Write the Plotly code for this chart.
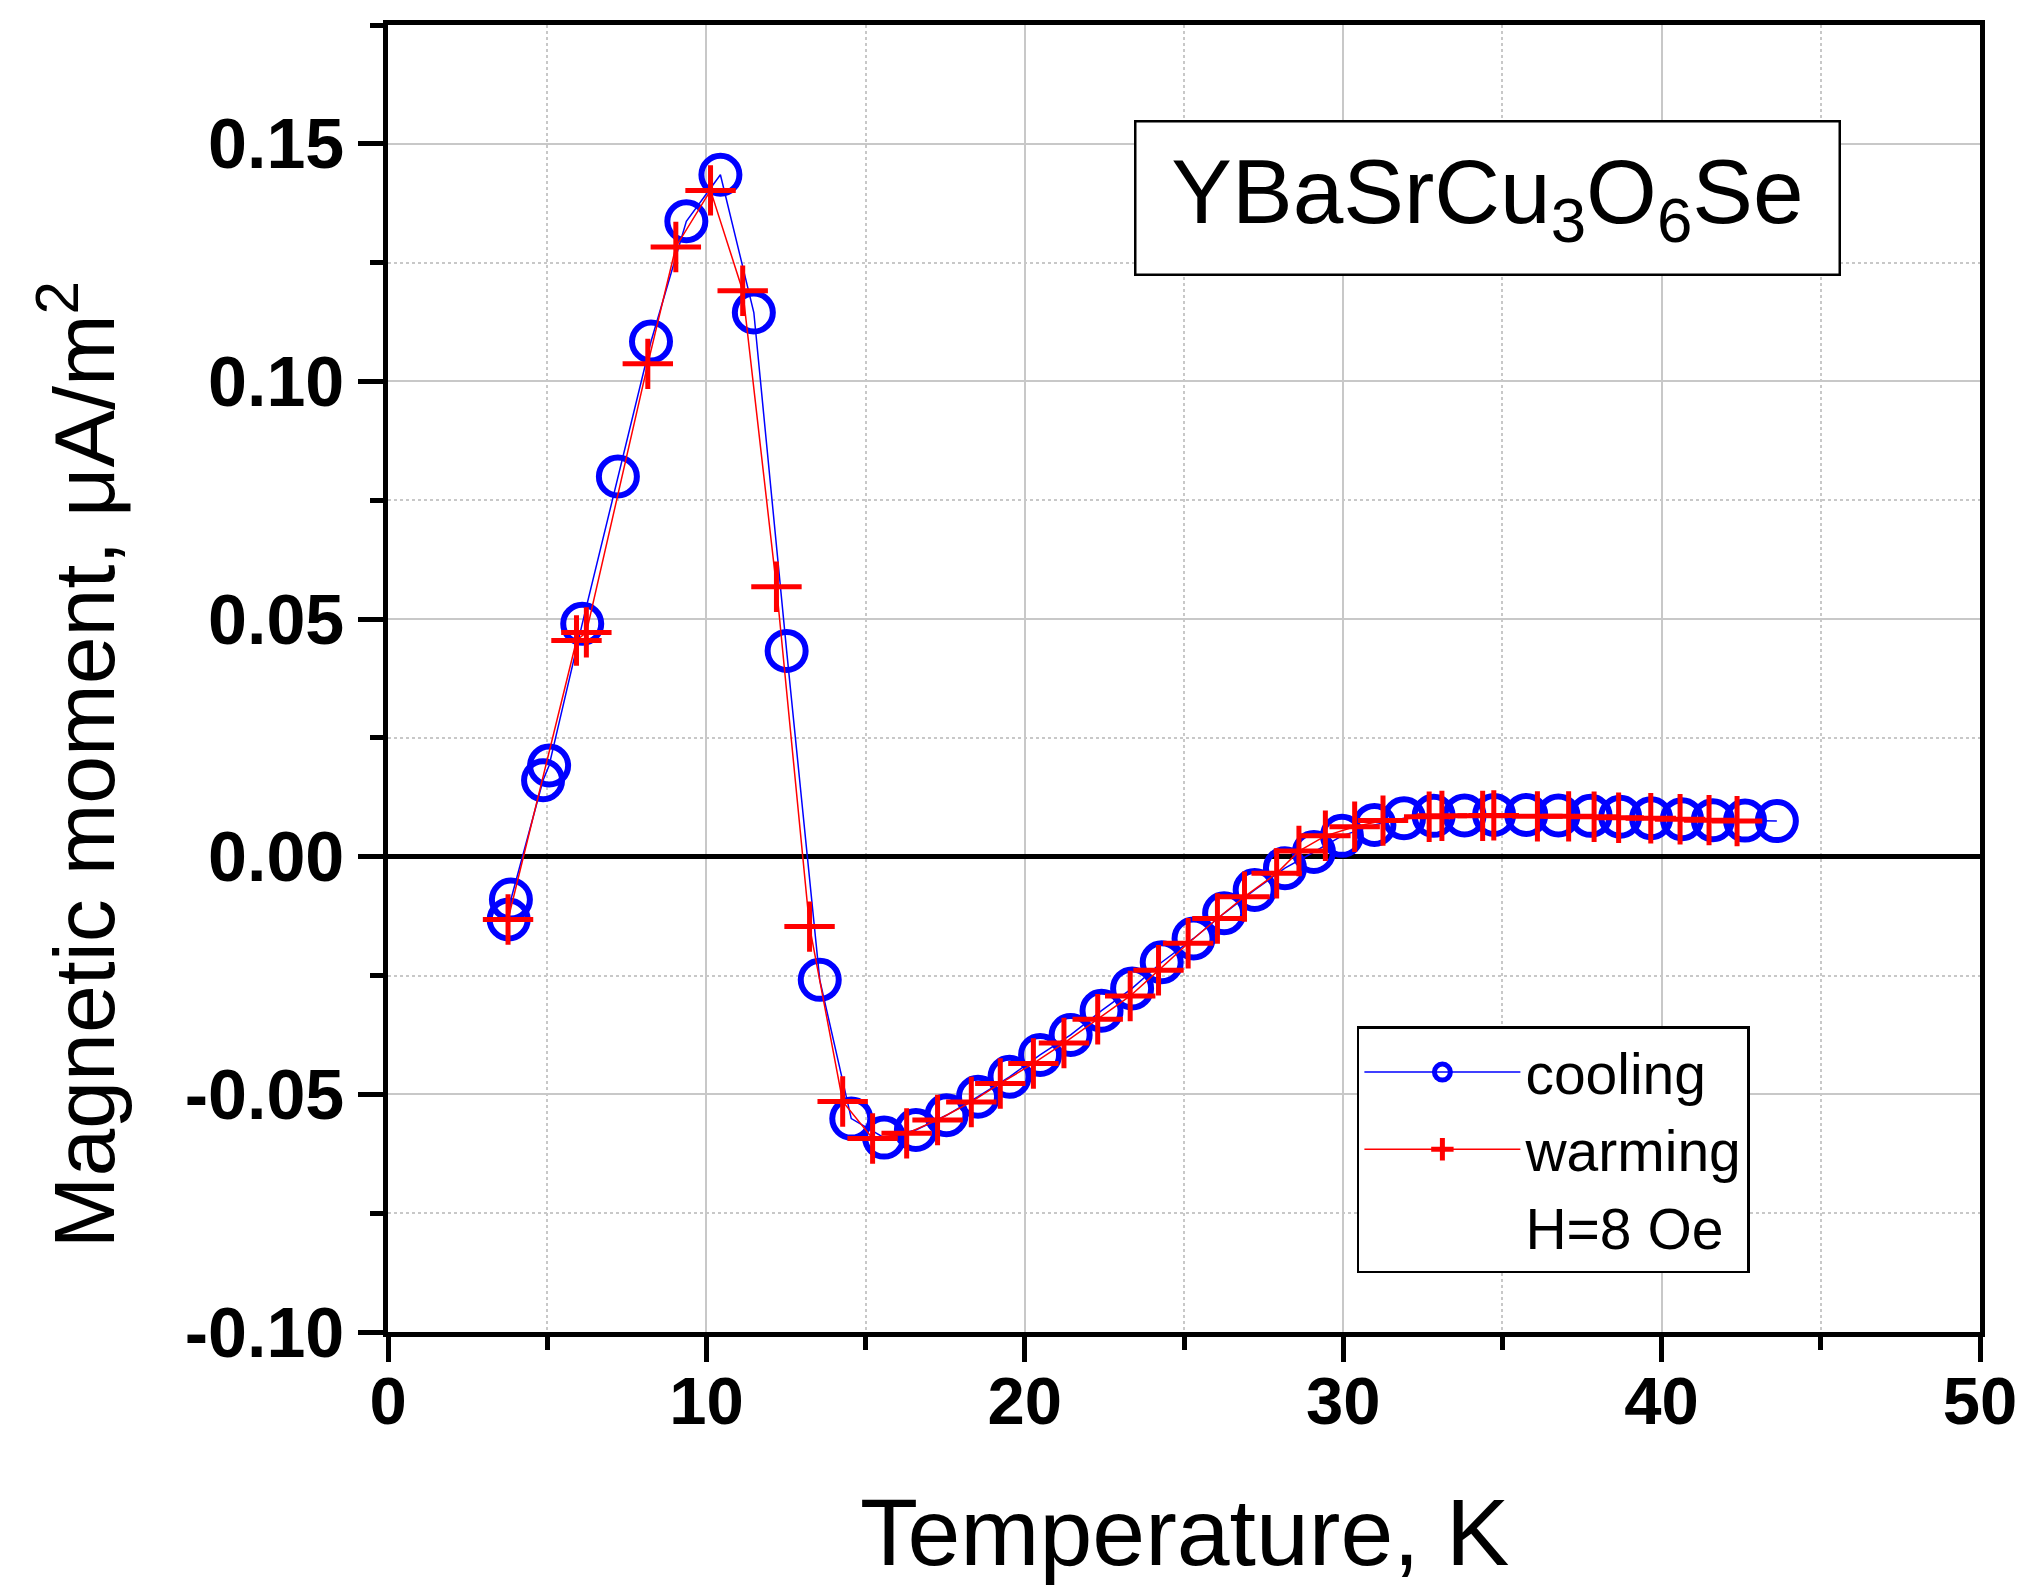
import plotly.graph_objects as go

# ---- data ----
cool_T = [3.79, 3.86, 4.87, 5.06, 6.10, 7.22, 8.26, 9.37, 10.44, 11.49, 12.52, 13.56,
          14.55, 15.58, 16.58, 17.54, 18.53, 19.52, 20.48, 21.44, 22.41, 23.37, 24.30,
          25.30, 26.26, 27.22, 28.17, 29.08, 29.96, 30.98, 31.91, 32.84, 33.81, 34.74,
          35.75, 36.76, 37.77, 38.70, 39.67, 40.64, 41.61, 42.62, 43.62]
cool_M = [-0.0132, -0.0090, 0.0161, 0.0192, 0.0490, 0.0800, 0.1084, 0.1337, 0.1435, 0.1145,
          0.0433, -0.0259, -0.0551, -0.0591, -0.0575, -0.0544, -0.0505, -0.0463, -0.0417,
          -0.0375, -0.0324, -0.0277, -0.0222, -0.0172, -0.0119, -0.0070, -0.0024, 0.0010,
          0.0044, 0.0067, 0.0081, 0.0086, 0.0087, 0.0088, 0.0088, 0.0087, 0.0086, 0.0084,
          0.0081, 0.0079, 0.0077, 0.0076, 0.0075]

warm_T = [3.77, 5.92, 6.23, 8.16, 9.04, 10.13, 11.14, 12.20, 13.24, 14.28, 15.22, 16.29,
          17.26, 18.32, 19.23, 20.27, 21.23, 22.29, 23.31, 24.20, 25.13, 26.05, 26.90,
          27.91, 28.61, 29.44, 30.36, 31.25, 32.70, 33.10, 34.38, 34.73, 36.10, 37.08,
          37.88, 38.65, 39.66, 40.58, 41.49, 42.37]
warm_M = [-0.0132, 0.0455, 0.0472, 0.1037, 0.1283, 0.1402, 0.1191, 0.0568, -0.0147, -0.0515,
          -0.0593, -0.0582, -0.0554, -0.0516, -0.0477, -0.0435, -0.0392, -0.0342, -0.0293,
          -0.0239, -0.0182, -0.0130, -0.0084, -0.0035, 0.0012, 0.0044, 0.0063, 0.0076,
          0.0084, 0.0086, 0.0086, 0.0087, 0.0085, 0.0085, 0.0084, 0.0082, 0.0081, 0.0079,
          0.0077, 0.0075]

x_tickvals = [0, 10, 20, 30, 40, 50]
x_ticktext = ["0", "10", "20", "30", "40", "50"]
y_tickvals = [-0.10, -0.05, 0.00, 0.05, 0.10, 0.15]
y_ticktext = ["-0.10", "-0.05", "0.00", "0.05", "0.10", "0.15"]

FONT = "Liberation Sans, Arial, sans-serif"
GRID = "#c8c8c8"

fig = go.Figure()
fig.add_trace(go.Scatter(
    x=cool_T, y=cool_M, name="cooling", mode="lines+markers",
    line=dict(color="#0000ff", width=1.5),
    marker=dict(symbol="circle-open", size=38, color="#0000ff",
                line=dict(color="#0000ff", width=6)),
))
fig.add_trace(go.Scatter(
    x=warm_T, y=warm_M, name="warming", mode="lines+markers",
    line=dict(color="#ff0000", width=1.5),
    marker=dict(symbol="cross-thin-open", size=36, color="#ff0000",
                line=dict(color="#ff0000", width=5)),
))
fig.add_trace(go.Scatter(x=[None], y=[None], name="H=8 Oe", mode="none"))

axis_common = dict(
    showline=True, linecolor="black", linewidth=4.5, mirror=True,
    ticks="outside", ticklen=25, tickwidth=4.5, tickcolor="black",
    showgrid=True, gridcolor=GRID, gridwidth=1.5,
)

fig.update_xaxes(
    range=[0, 50], tickmode="array", tickvals=x_tickvals, ticktext=x_ticktext,
    zeroline=False, ticklabelstandoff=-18,
    tickfont=dict(family=FONT, size=67, color="black", weight="bold"),
    minor=dict(tickmode="linear", tick0=0, dtick=5, ticks="outside", ticklen=13,
               tickwidth=4.5, tickcolor="black", showgrid=True, gridcolor=GRID,
               griddash="dot", gridwidth=1.5),
    **axis_common,
)
fig.update_yaxes(
    range=[-0.10, 0.175], tickmode="array", tickvals=y_tickvals, ticktext=y_ticktext,
    zeroline=True, zerolinecolor="black", zerolinewidth=4.5,
    tickfont=dict(family=FONT, size=70, color="black", weight="bold"),
    minor=dict(tickmode="linear", tick0=-0.1, dtick=0.025, ticks="outside", ticklen=13,
               tickwidth=4.5, tickcolor="black", showgrid=True, gridcolor=GRID,
               griddash="dot", gridwidth=1.5),
    **axis_common,
)

fig.add_annotation(
    x=34.53, y=0.1387, xref="x", yref="y",
    text="YBaSrCu<sub>3</sub>O<sub>6</sub>Se", showarrow=False,
    font=dict(family=FONT, size=91, color="black"),
    bgcolor="white", bordercolor="black", borderwidth=2.5, borderpad=0,
    width=702, height=151, align="center", valign="middle",
)
fig.add_annotation(
    x=0.5, y=-0.1113, xref="paper", yref="paper", xanchor="center", yanchor="top",
    text="Temperature, K", showarrow=False,
    font=dict(family=FONT, size=95, color="black"),
)
fig.add_annotation(
    x=-0.1946, y=0.4338, xref="paper", yref="paper", xanchor="center", yanchor="middle",
    text="Magnetic moment, μA/m<sup>2</sup>", showarrow=False, textangle=-90,
    font=dict(family=FONT, size=86, color="black"),
)

fig.update_layout(
    width=2029, height=1590,
    margin=dict(l=388, r=39, t=25, b=258),
    paper_bgcolor="white", plot_bgcolor="white",
    font=dict(family=FONT, color="black"),
    showlegend=True,
    legend=dict(
        x=0.6086, y=0.2341, xanchor="left", yanchor="top",
        bgcolor="white", bordercolor="black", borderwidth=2.5,
        font=dict(family=FONT, size=57, color="black"),
        itemwidth=156, itemsizing="trace", tracegroupgap=0,
    ),
)

fig.write_html(
    "out.html",
    config={"displayModeBar": False},
    post_script="document.body.style.margin='0px';document.body.style.overflow='hidden';",
)
